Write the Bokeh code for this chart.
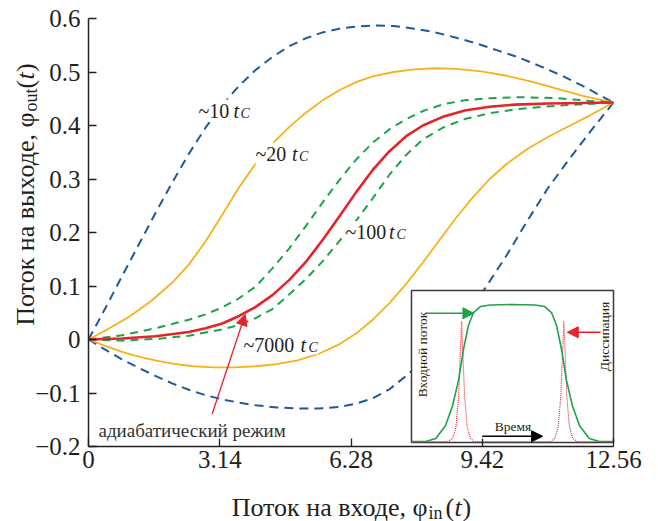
from math import pi
from bokeh.plotting import figure
from bokeh.models import Range1d, Label, FixedTicker, Arrow, NormalHead
from bokeh.embed import file_html
from bokeh.resources import INLINE

# ---------------- data ----------------
x_ticks = [0.0, 3.14, 6.28, 9.42, 12.56]
x_tick_labels = ["0", "3.14", "6.28", "9.42", "12.56"]
y_ticks = [-0.2, -0.1, 0.0, 0.1, 0.2, 0.3, 0.4, 0.5, 0.6]
y_tick_labels = ["\u22120.2", "\u22120.1", "0", "0.1", "0.2", "0.3", "0.4", "0.5", "0.6"]

# ~10 tC (blue dashed), upper and lower branches
x10_up = [0, 0.4, 0.8, 1.2, 1.6, 2.0, 2.4, 2.8, 3.2, 3.6, 4.0, 4.4, 4.8, 5.2, 5.6, 6.0, 6.4, 6.8,
          7.3, 7.8, 8.3, 8.8, 9.3, 9.8, 10.3, 10.8, 11.3, 11.8, 12.2, 12.56]
y10_up = [0, 0.058, 0.118, 0.177, 0.236, 0.293, 0.347, 0.396, 0.438, 0.474, 0.504, 0.528, 0.548,
          0.563, 0.574, 0.581, 0.585, 0.587, 0.586, 0.581, 0.574, 0.564, 0.553, 0.540, 0.527,
          0.511, 0.494, 0.475, 0.458, 0.443]
x10_lo = [0, 0.4, 0.8, 1.2, 1.6, 2.0, 2.4, 2.8, 3.2, 3.6, 4.0, 4.5, 5.0, 5.5, 6.0, 6.4, 6.8, 7.2,
          7.6, 8.0, 8.5, 9.0, 9.5, 10.0, 10.5, 11.0, 11.5, 12.0, 12.56]
y10_lo = [0, -0.019, -0.037, -0.053, -0.068, -0.082, -0.094, -0.104, -0.112, -0.118, -0.123,
          -0.127, -0.129, -0.129, -0.126, -0.120, -0.110, -0.093, -0.068, -0.040, 0.000, 0.045,
          0.097, 0.157, 0.222, 0.284, 0.337, 0.388, 0.443]

# ~20 tC (orange solid)
x20_up = [0, 0.5, 1.0, 1.5, 2.0, 2.4, 2.8, 3.2, 3.6, 4.0, 4.4, 4.8, 5.2, 5.6, 6.0, 6.4, 6.8, 7.3,
          7.8, 8.3, 8.8, 9.4, 10.0, 10.6, 11.2, 11.8, 12.2, 12.56]
y20_up = [0, 0.021, 0.044, 0.072, 0.106, 0.140, 0.183, 0.233, 0.284, 0.329, 0.366, 0.397, 0.424,
          0.447, 0.466, 0.481, 0.492, 0.500, 0.505, 0.507, 0.506, 0.501, 0.493, 0.482, 0.469,
          0.456, 0.449, 0.443]
x20_lo = [0, 0.4, 0.8, 1.2, 1.6, 2.0, 2.5, 3.0, 3.5, 4.0, 4.5, 5.0, 5.5, 6.0, 6.4, 6.8, 7.2, 7.6,
          8.0, 8.4, 8.8, 9.2, 9.6, 10.0, 10.5, 11.0, 11.5, 12.0, 12.56]
y20_lo = [0, -0.012, -0.023, -0.032, -0.039, -0.045, -0.050, -0.052, -0.052, -0.050, -0.046,
          -0.039, -0.027, -0.009, 0.011, 0.037, 0.068, 0.104, 0.144, 0.186, 0.228, 0.266, 0.300,
          0.328, 0.356, 0.379, 0.399, 0.419, 0.443]

# ~100 tC (green dashed)
x100_up = [0, 0.8, 1.6, 2.4, 2.8, 3.2, 3.6, 4.0, 4.4, 4.8, 5.2, 5.6, 6.0, 6.4, 6.8, 7.2, 7.6, 8.0,
           8.5, 9.0, 9.6, 10.4, 11.2, 12.0, 12.56]
y100_up = [0, 0.008, 0.021, 0.037, 0.047, 0.060, 0.077, 0.099, 0.133, 0.170, 0.212, 0.256, 0.298,
           0.336, 0.368, 0.393, 0.412, 0.427, 0.440, 0.447, 0.451, 0.453, 0.451, 0.446, 0.443]
x100_lo = [0, 0.8, 1.6, 2.4, 3.2, 3.6, 4.0, 4.4, 4.8, 5.2, 5.6, 6.0, 6.4, 6.8, 7.2, 7.6, 8.0, 8.5,
           9.0, 9.6, 10.3, 11.2, 12.56]
y100_lo = [0, -0.002, 0.001, 0.007, 0.019, 0.027, 0.040, 0.057, 0.084, 0.113, 0.146, 0.184, 0.222,
           0.264, 0.308, 0.345, 0.374, 0.397, 0.412, 0.423, 0.431, 0.437, 0.443]

# ~7000 tC (adiabatic, red solid)
x7000 = [0, 0.8, 1.6, 2.4, 2.8, 3.2, 3.6, 4.0, 4.4, 4.8, 5.2, 5.6, 6.0, 6.4, 6.8, 7.2, 7.6, 8.0,
         8.5, 9.0, 9.6, 10.2, 11.0, 12.56]
y7000 = [0, 0.002, 0.006, 0.014, 0.021, 0.030, 0.044, 0.061, 0.083, 0.111, 0.145, 0.186, 0.230,
         0.275, 0.317, 0.352, 0.380, 0.400, 0.417, 0.428, 0.435, 0.439, 0.441, 0.443]

# inset: input flux (green) and dissipation (red), time in arbitrary units 0..100
inset_t_in = [0, 7, 12, 16.8, 20.3, 23.3, 25.7, 28.2, 30.7, 34.2, 39, 50, 61, 65.8, 69.3, 71.8,
              74.3, 76.7, 79.7, 83.2, 88, 93, 100]
inset_v_in = [0.007, 0.007, 0.026, 0.11, 0.24, 0.41, 0.61, 0.77, 0.855, 0.895, 0.905, 0.908,
              0.905, 0.895, 0.855, 0.77, 0.61, 0.41, 0.24, 0.11, 0.026, 0.007, 0.007]
inset_t_diss = [0, 18, 20.5, 22, 23.3, 24.2, 24.8, 25.4, 26.3, 27.6, 29.1, 31, 69, 71, 72.6, 73.9,
                74.8, 75.4, 76.0, 76.9, 78.2, 79.8, 82, 100]
inset_v_diss = [0.005, 0.005, 0.03, 0.1, 0.3, 0.6, 0.80, 0.6, 0.3, 0.1, 0.03, 0.005, 0.005, 0.03,
                0.1, 0.3, 0.6, 0.80, 0.6, 0.3, 0.1, 0.03, 0.005, 0.005]

# ---------------- styling ----------------
SERIF = "Liberation Serif"
INK = "#231f20"
BLUE = "#1d5b98"
ORANGE = "#f6b21c"
RED = "#e5232a"
GREEN = "#1fa24a"

W, H = 658, 521
FL, FR, FT, FB = 88, 613, 18, 446          # plotting area inside the canvas (pixels)
XMIN, XMAX, YMIN, YMAX = 0.0, 12.56, -0.2, 0.6
kx = (FR - FL) / (XMAX - XMIN)
ky = (FB - FT) / (YMAX - YMIN)

p = figure(x_range=Range1d(XMIN - FL / kx, XMAX + (W - FR) / kx),
           y_range=Range1d(YMIN - (H - FB) / ky, YMAX + FT / ky),
           width=W, height=H, min_border=0,
           output_backend="svg", toolbar_location=None, title=None)
p.background_fill_color = "white"
p.border_fill_color = "white"
p.outline_line_color = None
p.xgrid.visible = False
p.ygrid.visible = False

# canvas-pixel ranges (for annotations) and inset ranges
p.extra_x_ranges = {"px": Range1d(0, W)}
p.extra_y_ranges = {"py": Range1d(H, 0)}
IL, IR, IT, IB = 411, 613, 290, 442   # inset box in canvas pixels
sx = (IR - IL) / 100.0
sy = (IB - IT) / 1.0
p.extra_x_ranges["ix"] = Range1d((0 - IL) / sx, (W - IL) / sx)
p.extra_y_ranges["iy"] = Range1d((IB - H) / sy, (IB - 0) / sy)

p.axis.axis_line_color = INK
p.axis.axis_line_width = 1.5
p.axis.major_tick_line_color = INK
p.axis.major_tick_line_width = 1.3
p.axis.major_tick_in = 8
p.axis.major_tick_out = 0
p.axis.minor_tick_line_color = None
p.axis.major_label_text_font = SERIF
p.axis.major_label_text_font_size = "25px"
p.axis.major_label_text_color = INK

p.xaxis.fixed_location = YMIN
p.xaxis.bounds = (XMIN, XMAX)
p.xaxis.ticker = FixedTicker(ticks=x_ticks)
p.xaxis.major_label_overrides = dict(zip(x_ticks, x_tick_labels))
p.xaxis.major_label_standoff = 4
p.yaxis.fixed_location = XMIN
p.yaxis.bounds = (YMIN, YMAX)
p.yaxis.ticker = FixedTicker(ticks=y_ticks)
p.yaxis.major_label_overrides = dict(zip(y_ticks, y_tick_labels))
p.yaxis.major_label_standoff = 8

# ---------------- main curves ----------------
p.line(x10_up, y10_up, line_color=BLUE, line_width=2, line_dash="9 6")
p.line(x10_lo, y10_lo, line_color=BLUE, line_width=2, line_dash="9 6")
p.line(x20_up, y20_up, line_color=ORANGE, line_width=1.8)
p.line(x20_lo, y20_lo, line_color=ORANGE, line_width=1.8)
p.line(x100_up, y100_up, line_color=GREEN, line_width=2, line_dash="8 6")
p.line(x100_lo, y100_lo, line_color=GREEN, line_width=2, line_dash="8 6")
p.line(x7000, y7000, line_color=RED, line_width=2.6)

# ---------------- inset ----------------
p.quad(left=0, right=100, bottom=0, top=1, x_range_name="ix", y_range_name="iy",
       fill_color="white", line_color="#3a3a3a", line_width=1.5)
p.line(inset_t_diss, inset_v_diss, x_range_name="ix", y_range_name="iy",
       line_color=RED, line_width=1.1, line_dash="1 1")
p.line(inset_t_in, inset_v_in, x_range_name="ix", y_range_name="iy",
       line_color=GREEN, line_width=1.6)


def arrow(x0, y0, x1, y1, color, xr, yr, size=11, width=1.5):
    p.add_layout(Arrow(end=NormalHead(size=size, fill_color=color, line_color=color),
                       x_start=x0, y_start=y0, x_end=x1, y_end=y1,
                       line_color=color, line_width=width,
                       x_range_name=xr, y_range_name=yr))


arrow(7.8, 0.85, 30.9, 0.85, GREEN, "ix", "iy")
arrow(93.6, 0.725, 77.1, 0.725, RED, "ix", "iy")
arrow(35.0, 0.041, 64.9, 0.041, "black", "ix", "iy")


def lab(text, x, y, size, style="normal", align="left", baseline="alphabetic", angle=0.0,
        color=INK, bg=None):
    p.add_layout(Label(x=x, y=y, x_range_name="px", y_range_name="py", text=text,
                       text_font=SERIF, text_font_size=f"{size}px", text_font_style=style,
                       text_align=align, text_baseline=baseline, angle=angle,
                       text_color=color, background_fill_color=bg))


lab("Входной поток", 421.5, 354, 13.5, align="center", baseline="middle", angle=pi / 2)
lab("Диссипация", 603.5, 336, 13.5, align="center", baseline="middle", angle=pi / 2)
lab("Время", 512.5, 426, 13.5, align="center", baseline="middle")


# ---------------- curve labels ----------------
def tc_label(num, x, y, t_x, c_x):
    lab("~" + num, x, y, 20, bg="white")
    lab("t", t_x, y, 20, style="italic", bg="white")
    lab("C", c_x, y + 2.5, 14, style="italic", bg="white")


tc_label("10", 198, 110, 233, 240)
tc_label("20", 255, 153, 291.5, 298.5)
tc_label("100", 345, 231.5, 388.5, 396)
tc_label("7000", 243, 344, 300, 308)

lab("адиабатический режим", 98, 430, 19, color="#333333")
arrow(211.7, 413.3, 244.7, 313.8, RED, "px", "py", size=11, width=1.3)

# ---------------- axis titles ----------------
lab("Поток на входе, φ", 427, 507, 26, align="right")
lab("in", 428, 512, 18)
lab("(", 445, 507, 26)
lab("t", 454, 507, 26, style="italic")
lab(")", 462, 507, 26)

lab("Поток на выходе, φ", 25, 112, 26, align="right", angle=pi / 2)
lab("out", 30, 111, 18, angle=pi / 2)
lab("(", 25, 88, 26, angle=pi / 2)
lab("t", 25, 79, 26, style="italic", angle=pi / 2)
lab(")", 25, 71.5, 26, angle=pi / 2)

open("out.html", "w").write(file_html(p, INLINE))
